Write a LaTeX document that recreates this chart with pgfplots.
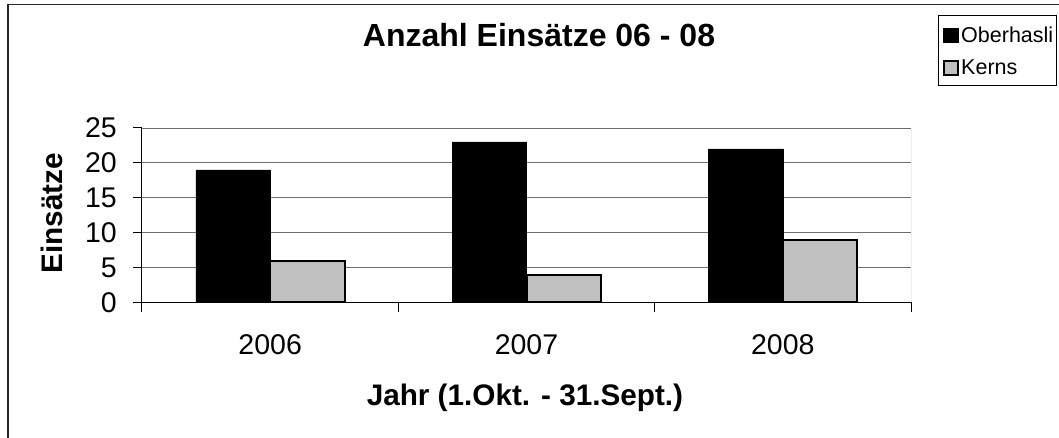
\documentclass[border=0pt]{standalone}
\usepackage{pgfplots}
\pgfplotsset{compat=1.18}
\usepackage{fontspec}
\setmainfont{Liberation Sans}
\definecolor{barGray}{RGB}{192,192,192}
\definecolor{gridGray}{RGB}{110,110,110}
\pgfplotsset{sqlegend/.style={legend image code/.code={\path[draw=none,fill=none] (0pt,0pt) -- (19.7pt,0pt);\draw[##1,bar shift=0pt] (4.7pt,-8.65pt) rectangle (19.2pt,5.85pt);}}}
\begin{document}
\begin{tikzpicture}[x=1pt,y=1pt]
\begin{axis}[
  scale only axis, width=769pt, height=174.5pt,
  xmin=-0.5, xmax=2.5, ymin=0, ymax=25,
  ytick={0,5,...,25},
  ymajorgrids, grid style={draw=gridGray, line width=0.9pt},
  xtick={0,1,2}, xticklabels={2006,2007,2008},
  major x tick style={draw=none},
  minor xtick={-0.5,0.5,1.5,2.5},
  tick align=outside,
  major tick length=9pt, minor tick length=10pt,
  tick style={black, line width=1pt},
  axis x line*=bottom, axis y line*=left,
  axis line style={-, black, line width=1pt},
  /pgf/number format/assume math mode=true,
  ticklabel style={font=\fontsize{28.5}{34}\selectfont},
  yticklabel style={inner sep=0pt, xshift=-16pt},
  xticklabel style={inner sep=0pt, yshift=-23pt},
  title={Anzahl Einsätze 06 - 08},
  title style={font=\bfseries\fontsize{32}{38}\selectfont, at={(axis description cs:0.5163,1.4355)}, anchor=base},
  xlabel={Jahr (1.Okt. - 31.Sept.)},
  xlabel style={font=\bfseries\fontsize{29.7}{36}\selectfont, at={(axis description cs:0.498,-0.5931)}, anchor=base},
  ylabel={Einsätze},
  ylabel style={font=\bfseries\fontsize{29.7}{36}\selectfont, at={(axis description cs:-0.1040,0.5129)}, anchor=base},
  ybar=0pt, bar width=0.29,
  legend style={at={(axis description cs:1.0345,1.6476)}, anchor=north west,
    draw=black, line width=1pt, font=\fontsize{21.5}{25}\selectfont,
    inner xsep=1pt, inner ysep=7.8pt, row sep=11pt,
    nodes={inner sep=2pt, text height=17pt, text depth=0.7pt}},
  legend cell align=left,
]
\addplot[fill=black, draw=black, line width=0.6pt, bar shift=-0.145, sqlegend] coordinates {(0,19) (1,23) (2,22)};
\addlegendentry{Oberhasli}
\addplot[fill=barGray, draw=black, line width=2pt, bar shift=0.145, sqlegend] coordinates {(0,6) (1,4) (2,9)};
\addlegendentry{Kerns}
\draw[gray, line width=1pt] (rel axis cs:1,0) -- (rel axis cs:1,1);
\coordinate (O) at (rel axis cs:0,0);
\end{axis}
\pgfresetboundingbox
\path[use as bounding box] (O) ++(-142,302.5) rectangle ++(1059,-438);
\begin{scope}
\clip (O) ++(-142,302.5) rectangle ++(1059,-438);
\draw[line width=1.2pt, black!85] (O) ++(-134,298) rectangle ++(1100,-500);
\end{scope}
\end{tikzpicture}
\end{document}
